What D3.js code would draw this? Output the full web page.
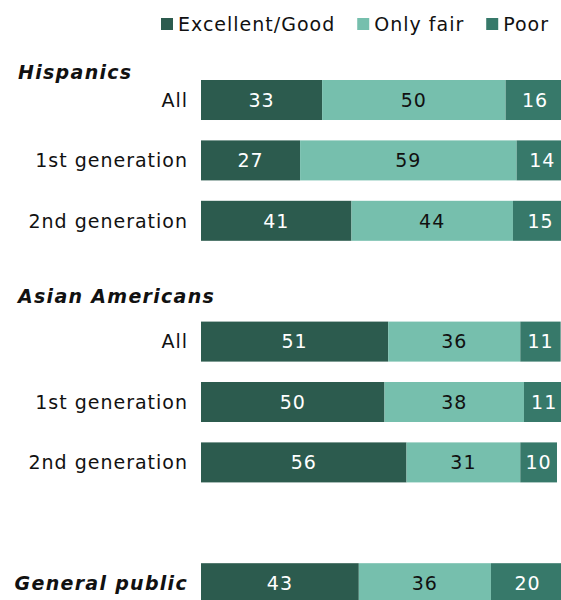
<!DOCTYPE html>
<html>
<head>
<meta charset="utf-8">
<script src="https://cdn.jsdelivr.net/npm/d3@7"></script>
<style>
  html, body { margin: 0; padding: 0; background: #fff; }
  svg { display: block; }
  text { font-family: "DejaVu Sans", Verdana, sans-serif; }
</style>
</head>
<body>
<svg id="chart" width="561" height="600"></svg>
<script>
// Ratings by group, in percent
const groups = ["Hispanics", "Asian Americans", "General public"];
const rowGroup = ["Hispanics", "Hispanics", "Hispanics",
                  "Asian Americans", "Asian Americans", "Asian Americans",
                  "General public"];
const rowLabels = ["All", "1st generation", "2nd generation",
                   "All", "1st generation", "2nd generation",
                   "General public"];
const excellentGood = [33, 27, 41, 51, 50, 56, 43];
const onlyFair      = [50, 59, 44, 36, 38, 31, 36];
const poor          = [16, 14, 15, 11, 11, 10, 20];
const seriesNames = ["Excellent/Good", "Only fair", "Poor"];
const seriesColors = ["#2c5b4e", "#76bfad", "#37796a"];
const labelColors = ["#ffffff", "#111111", "#ffffff"];

const svg = d3.select("#chart");

// Row keys, with a spacer slot between groups
const keys = [];
const rows = rowLabels.map((label, i) => ({
  key: rowGroup[i] + "|" + label,
  group: rowGroup[i],
  label,
  values: [excellentGood[i], onlyFair[i], poor[i]]
}));
groups.forEach((g, gi) => {
  rows.filter(r => r.group === g).forEach(r => keys.push(r.key));
  if (gi < groups.length - 1) keys.push("spacer-" + gi);
});

const y = d3.scaleBand()
  .domain(keys)
  .range([80, 603.2])
  .paddingInner(0.3377)
  .paddingOuter(0);

const x = d3.scaleLinear().domain([0, 100]).range([201, 568]);

// Stacked segments
const stackData = rows.map(r => {
  const o = { key: r.key };
  seriesNames.forEach((s, i) => o[s] = r.values[i]);
  return o;
});
const stacked = d3.stack().keys(seriesNames)(stackData);

const barG = svg.append("g");
stacked.forEach((layer, si) => {
  const g = barG.append("g");
  g.selectAll("rect")
    .data(layer)
    .join("rect")
    .attr("x", d => x(d[0]))
    .attr("y", d => y(d.data.key))
    .attr("width", d => x(d[1]) - x(d[0]))
    .attr("height", y.bandwidth())
    .attr("fill", seriesColors[si]);
  g.selectAll("text")
    .data(layer)
    .join("text")
    .attr("x", d => (x(d[0]) + x(d[1])) / 2)
    .attr("y", d => y(d.data.key) + y.bandwidth() / 2)
    .attr("dy", "0.36em")
    .attr("text-anchor", "middle")
    .attr("fill", labelColors[si])
    .style("font-size", "19px")
    .style("letter-spacing", "1px")
    .text(d => d.data[seriesNames[si]]);
});

// Row labels (the general public row is labelled in the title style)
const isTitleRow = d => d.group === d.label;
svg.append("g").selectAll("text")
  .data(rows)
  .join("text")
  .attr("x", 188)
  .attr("y", d => y(d.key) + y.bandwidth() / 2)
  .attr("dy", "0.36em")
  .attr("text-anchor", "end")
  .attr("fill", "#111")
  .style("font-size", "19px")
  .style("letter-spacing", d => isTitleRow(d) ? "1.3px" : "1px")
  .style("font-weight", d => isTitleRow(d) ? "bold" : "normal")
  .style("font-style", d => isTitleRow(d) ? "italic" : "normal")
  .text(d => d.label);

// Group titles above their first row
const titleOffset = { "Hispanics": -1, "Asian Americans": -19 };
svg.append("g").selectAll("text")
  .data(groups.filter(g => rows.filter(r => r.group === g).length > 1))
  .join("text")
  .attr("x", 18)
  .attr("y", g => y(rows.find(r => r.group === g).key) + titleOffset[g])
  .attr("fill", "#111")
  .style("font-size", "19px")
  .style("font-weight", "bold")
  .style("font-style", "italic")
  .style("letter-spacing", "1.3px")
  .text(g => g);

// Legend
const legend = svg.append("g");
let lx = 161;
seriesNames.forEach((s, i) => {
  legend.append("rect")
    .attr("x", lx).attr("y", 18)
    .attr("width", 12).attr("height", 12)
    .attr("fill", seriesColors[i]);
  const t = legend.append("text")
    .attr("x", lx + 17).attr("y", 30.5)
    .attr("fill", "#111")
    .style("font-size", "19px")
    .style("letter-spacing", "1px")
    .text(s);
  lx += 17 + t.node().getComputedTextLength() + 22;
});
</script>
</body>
</html>
